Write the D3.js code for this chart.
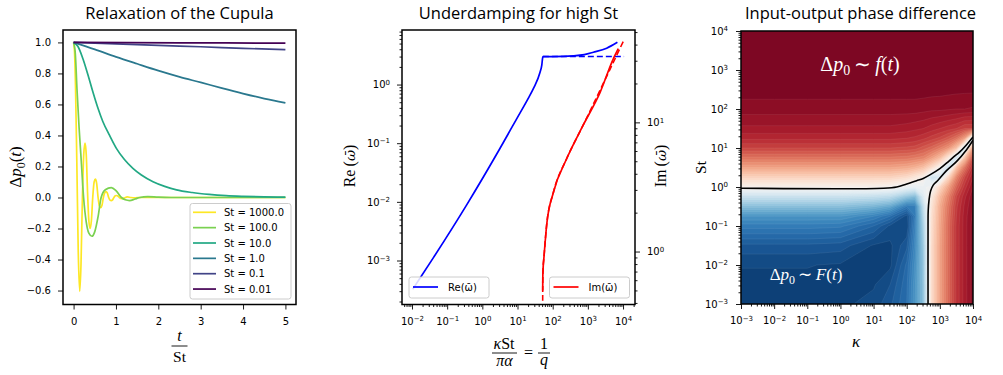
<!DOCTYPE html>
<html>
<head>
<meta charset="utf-8">
<script src="https://cdn.jsdelivr.net/npm/d3@7"></script>
<style>
  body { margin: 0; background: #fff; }
  .tick text { font-family: "DejaVu Sans", sans-serif; font-size: 10px; fill: #000; }
  .title { font-family: "Open Sans", sans-serif; font-size: 16.5px; text-anchor: middle; fill: #000; }
  .math { font-family: "Liberation Serif", serif; fill: #000; }
  .legend text { font-family: "DejaVu Sans", sans-serif; font-size: 10px; fill: #000; }
</style>
</head>
<body>
<svg width="1003" height="375"></svg>
<script>
// ---------- Panel 1: relaxation of the cupula, [t/St, Δp0] ----------
var stLabels = ["St = 1000.0", "St = 100.0", "St = 10.0", "St = 1.0", "St = 0.1", "St = 0.01"];
var relaxSt1000 = [[0,1],[0.02,0.95],[0.045,0.72],[0.075,0.25],[0.11,-0.35],[0.145,-0.605],[0.175,-0.43],[0.208,0],[0.24,0.28],[0.27,0.35],[0.3,0.27],[0.33,0.03],[0.36,-0.15],[0.39,-0.2],[0.42,-0.15],[0.452,0],[0.485,0.1],[0.515,0.118],[0.545,0.09],[0.578,0],[0.61,-0.055],[0.64,-0.065],[0.67,-0.05],[0.703,0],[0.735,0.03],[0.765,0.038],[0.795,0.03],[0.828,0],[0.86,-0.017],[0.89,-0.02],[0.92,-0.015],[0.953,0],[0.985,0.011],[1.015,0.013],[1.045,0.01],[1.08,0],[1.14,-0.007],[1.2,-0.003],[1.265,0.004],[1.35,0],[1.45,-0.002],[1.6,0],[5,0]];
var relaxSt100 = [[0,1],[0.04,0.93],[0.08,0.7],[0.13,0.45],[0.18,0.24],[0.236,0],[0.3,-0.16],[0.36,-0.23],[0.433,-0.25],[0.5,-0.22],[0.58,-0.12],[0.65,0],[0.75,0.05],[0.89,0.064],[1.0,0.045],[1.13,0],[1.22,-0.015],[1.32,-0.02],[1.45,-0.01],[1.56,0],[1.75,0.006],[2.0,0.002],[2.3,0],[5,0]];
var relaxSt10 = [[0,1],[0.1,0.975],[0.22,0.895],[0.34,0.79],[0.456,0.68],[0.57,0.58],[0.69,0.49],[0.85,0.4],[1.01,0.317],[1.2,0.245],[1.4,0.188],[1.6,0.145],[1.875,0.102],[2.15,0.072],[2.43,0.049],[2.8,0.032],[3.2,0.02],[3.6,0.012],[4,0.0075],[4.5,0.004],[5,0.002]];
var relaxSt1 = [[0,1],[0.5,0.955],[1,0.907],[1.5,0.862],[2,0.818],[2.5,0.778],[3,0.742],[3.5,0.705],[4,0.67],[4.5,0.638],[5,0.61]];
var relaxSt01 = [[0,1],[1,0.991],[2,0.981],[3,0.972],[4,0.962],[5,0.953]];
var relaxSt001 = [[0,1],[2.5,0.9975],[5,0.995]];
var relaxSeries = [relaxSt1000, relaxSt100, relaxSt10, relaxSt1, relaxSt01, relaxSt001];
var timeTicks = [0, 1, 2, 3, 4, 5];
var pressureTicks = [-0.6, -0.4, -0.2, 0, 0.2, 0.4, 0.6, 0.8, 1.0];

// ---------- Panel 2: eigenvalue vs κSt/(πα) ----------
var reOmega = [[0.0105,0.000324],[0.0407,0.00112],[0.359,0.0089],[3.16,0.0813],[9.55,0.263],[20,0.575],[28.2,0.851],[43.7,1.62],[49,2.14],[52,2.9],[54,3.0],[100,3.0],[389,3.09],[794,3.24],[1429,3.55],[3430,4.17],[6918,5.25]];
var reOmegaLimit = [[52.5,3.0],[10700,3.0]];
var imOmega = [[52.0,0.5],[52.3,0.62],[53.5,0.75],[56.2,0.89],[67.6,1.62],[105,2.88],[251,5.25],[741,9.55],[2213,17.0],[5248,30.9],[7328,37.2]];
var imOmegaLimit = [[51.8,0.3],[52.3,0.62],[53.5,0.75],[56.2,0.89],[67.6,1.62],[105,2.88],[251,5.25],[741,9.55],[10715,43.7]];

// ---------- Panel 3: phase difference (normalised, -1..1) ----------
var kappaExp = [-3, -2, -1, 0, 1, 1.5, 2, 2.25, 2.5, 2.75, 3, 3.25, 3.5, 3.75, 4]; // log10 κ of grid columns
var stExp = [-3, -2.5, -2, -1.5, -1, -0.75, -0.5, -0.25, 0, 0.25, 0.5, 0.75, 1, 1.25, 1.5, 2, 2.5, 3, 4]; // log10 St of grid rows
var phaseGrid = [
  [-0.93,-0.93,-0.93,-0.93,-0.905,-0.85,-0.76,-0.6,-0.42,0.18,0.4,0.57,0.73,0.82,0.9],
  [-0.93,-0.93,-0.93,-0.93,-0.925,-0.88,-0.77,-0.61,-0.41,0.18,0.4,0.57,0.73,0.82,0.9],
  [-0.918,-0.918,-0.918,-0.925,-0.93,-0.93,-0.79,-0.63,-0.4,0.18,0.4,0.57,0.73,0.82,0.9],
  [-0.85,-0.85,-0.85,-0.86,-0.925,-0.93,-0.85,-0.66,-0.38,0.18,0.4,0.57,0.73,0.82,0.9],
  [-0.7,-0.7,-0.7,-0.71,-0.8,-0.89,-0.92,-0.69,-0.34,0.17,0.39,0.57,0.73,0.82,0.9],
  [-0.6,-0.6,-0.6,-0.6,-0.68,-0.76,-0.9,-0.72,-0.3,0.16,0.38,0.56,0.72,0.82,0.89],
  [-0.42,-0.42,-0.42,-0.42,-0.47,-0.53,-0.72,-0.7,-0.25,0.14,0.37,0.54,0.71,0.81,0.88],
  [-0.22,-0.22,-0.22,-0.22,-0.24,-0.27,-0.4,-0.45,-0.14,0.1,0.32,0.5,0.68,0.79,0.87],
  [0.03,0.03,0.03,0.03,0.03,0.01,-0.05,-0.08,-0.05,-0.02,0.2,0.4,0.6,0.74,0.84],
  [0.22,0.22,0.22,0.22,0.22,0.22,0.18,0.12,0.05,-0.2,-0.15,0.2,0.5,0.68,0.8],
  [0.4,0.4,0.4,0.4,0.4,0.4,0.38,0.35,0.3,0.18,0.02,-0.2,0.3,0.55,0.75],
  [0.55,0.55,0.55,0.55,0.55,0.55,0.54,0.52,0.5,0.42,0.32,0.12,-0.2,0.3,0.65],
  [0.68,0.68,0.68,0.68,0.68,0.68,0.67,0.66,0.62,0.58,0.52,0.45,0.3,-0.15,0.45],
  [0.77,0.77,0.77,0.77,0.77,0.77,0.76,0.75,0.73,0.7,0.67,0.62,0.55,0.42,-0.1],
  [0.83,0.83,0.83,0.83,0.83,0.83,0.82,0.81,0.8,0.78,0.76,0.74,0.72,0.68,0.68],
  [0.9,0.9,0.9,0.9,0.9,0.9,0.9,0.9,0.895,0.89,0.89,0.885,0.88,0.88,0.875],
  [0.94,0.94,0.94,0.94,0.94,0.94,0.94,0.94,0.94,0.938,0.936,0.934,0.932,0.93,0.93],
  [0.955,0.955,0.955,0.955,0.955,0.955,0.955,0.955,0.955,0.955,0.955,0.955,0.955,0.953,0.953],
  [0.958,0.958,0.958,0.958,0.958,0.958,0.958,0.958,0.958,0.958,0.958,0.958,0.958,0.958,0.958]
];
// zero-phase contours [κ, St]
var upperZero = [[0.001,0.93],[20,0.93],[50,1.0],[100,1.2],[200,1.45],[316,1.66],[500,2.04],[1000,2.95],[1585,4.07],[2512,5.75],[3981,7.94],[6310,12.0],[10000,19.1]];
var lowerZero = [[440,0.001],[440,0.1],[445,0.25],[470,0.45],[525,0.79],[631,1.12],[891,1.51],[1585,2.63],[3162,4.47],[6310,8.91],[10000,15.8]];
var logTicks3 = [1e-3, 1e-2, 1e-1, 1, 10, 100, 1000, 10000];

var svg = d3.select("svg");
var top0 = 30, bot0 = 304.5;

function minorTicks(lo, hi, dmin, dmax) {
    var out = [];
    for (var e = lo; e <= hi; e++) {
        for (var m = 2; m < 10; m++) {
            var v = m * Math.pow(10, e);
            if (v >= dmin && v <= dmax) out.push(v);
        }
    }
    return out;
}

// turn the log ticks into 10 with a superscript
function powLabels(g) {
    g.selectAll(".tick text").each(function (d) {
        var e = Math.round(Math.log10(d));
        var t = d3.select(this).text("");
        t.append("tspan").text("10");
        t.append("tspan").attr("dy", "-0.5em").attr("font-size", "7px")
            .text(e < 0 ? "\u2212" + (-e) : String(e));
    });
}

function cleanAxis(g) {
    g.select(".domain").remove();
    g.selectAll(".tick line").attr("stroke", "#000").attr("stroke-width", 0.9);
}

function mathParts(sel, size, parts) {
    var back = 0;
    parts.forEach(function (p) {
        var ts = sel.append("tspan").text(p[0]);
        if (p[1] === "i") ts.attr("font-style", "italic");
        if (p[1] === "w") ts.attr("font-style", "italic").attr("font-family", "DejaVu Serif").attr("font-size", size * 0.85);
        if (p[1] === "sub") {
            ts.attr("font-size", size * 0.7).attr("dy", size * 0.22);
            back = size * 0.22;
        } else if (back) {
            ts.attr("dy", -back);
            back = 0;
        }
    });
}

var defs = svg.append("defs");
defs.append("clipPath").attr("id", "clip1").append("rect")
    .attr("x", 63).attr("y", top0).attr("width", 233).attr("height", bot0 - top0);
defs.append("clipPath").attr("id", "clip2").append("rect")
    .attr("x", 402).attr("y", top0).attr("width", 233).attr("height", bot0 - top0);
defs.append("clipPath").attr("id", "clip3").append("rect")
    .attr("x", 741).attr("y", 31).attr("width", 232).attr("height", 273);

// ================= Panel 1 =================
var x1 = d3.scaleLinear().domain([-0.25, 5.25]).range([63, 296]);
var y1 = d3.scaleLinear().domain([-0.69, 1.08]).range([bot0, top0]);
var stColor = function (i) { return d3.interpolateViridis(1 - i / 5); };

var line1 = d3.line()
    .x(function (d) { return x1(d[0]); })
    .y(function (d) { return y1(d[1]); })
    .curve(d3.curveMonotoneX);

var p1 = svg.append("g");
p1.append("g").attr("clip-path", "url(#clip1)")
    .selectAll("path").data(relaxSeries).enter().append("path")
    .attr("d", line1)
    .attr("fill", "none")
    .attr("stroke", function (d, i) { return stColor(i); })
    .attr("stroke-width", 1.7);

p1.append("g").attr("transform", "translate(0," + bot0 + ")")
    .call(d3.axisBottom(x1).tickValues(timeTicks).tickSize(5).tickPadding(8).tickFormat(d3.format("d")))
    .call(cleanAxis);
p1.append("g").attr("transform", "translate(63,0)")
    .call(d3.axisLeft(y1).tickValues(pressureTicks).tickSize(5).tickPadding(7).tickFormat(d3.format(".1f")))
    .call(cleanAxis);
p1.append("rect").attr("x", 63).attr("y", top0).attr("width", 233).attr("height", bot0 - top0)
    .attr("fill", "none").attr("stroke", "#000").attr("stroke-width", 1.5);

// legend
var leg1 = svg.append("g").attr("class", "legend");
leg1.append("rect").attr("x", 190).attr("y", 203.5).attr("width", 101).attr("height", 95.5).attr("rx", 2.5)
    .attr("fill", "#fff").attr("fill-opacity", 0.85).attr("stroke", "#ccc");
stLabels.forEach(function (lab, i) {
    var yy = 212.3 + i * 15.35;
    leg1.append("line").attr("x1", 193).attr("x2", 216).attr("y1", yy).attr("y2", yy)
        .attr("stroke", stColor(i)).attr("stroke-width", 1.7);
    leg1.append("text").attr("x", 224).attr("y", yy + 3.6).text(lab);
});

svg.append("text").attr("class", "title").attr("x", 179.5).attr("y", 18.5).text("Relaxation of the Cupula");

// y label Δp0(t)
mathParts(svg.append("text").attr("class", "math").attr("font-size", 17).attr("text-anchor", "middle")
    .attr("transform", "translate(21,167) rotate(-90)"),
    17, [["\u0394"], ["p", "i"], ["0", "sub"], ["("], ["t", "i"], [")"]]);
// x label t / St
svg.append("text").attr("class", "math").attr("font-size", 16).attr("font-style", "italic")
    .attr("text-anchor", "middle").attr("x", 179.5).attr("y", 340.5).text("t");
svg.append("line").attr("x1", 171.5).attr("x2", 187.5).attr("y1", 346).attr("y2", 346)
    .attr("stroke", "#000").attr("stroke-width", 0.9);
svg.append("text").attr("class", "math").attr("font-size", 15.5)
    .attr("text-anchor", "middle").attr("x", 179.5).attr("y", 362).text("St");

// ================= Panel 2 =================
var x2 = d3.scaleLog().domain([Math.pow(10, -2.284), Math.pow(10, 4.34)]).range([402, 635]);
var y2 = d3.scaleLog().domain([Math.pow(10, -3.75), Math.pow(10, 0.93)]).range([bot0, top0]);
var y2r = d3.scaleLog().domain([Math.pow(10, -0.41), Math.pow(10, 1.715)]).range([bot0, top0]);

var lineRe = d3.line().x(function (d) { return x2(d[0]); }).y(function (d) { return y2(d[1]); }).curve(d3.curveMonotoneX);
var lineIm = d3.line().x(function (d) { return x2(d[0]); }).y(function (d) { return y2r(d[1]); }).curve(d3.curveMonotoneX);

var p2 = svg.append("g");
var c2 = p2.append("g").attr("clip-path", "url(#clip2)");
c2.append("path").datum(reOmegaLimit).attr("d", lineRe).attr("fill", "none")
    .attr("stroke", "#0000ff").attr("stroke-width", 1.6).attr("stroke-dasharray", "6,3");
c2.append("path").datum(imOmegaLimit).attr("d", lineIm).attr("fill", "none")
    .attr("stroke", "#ff0000").attr("stroke-width", 1.6).attr("stroke-dasharray", "6,3");
c2.append("path").datum(reOmega).attr("d", lineRe).attr("fill", "none")
    .attr("stroke", "#0000ff").attr("stroke-width", 1.7);
c2.append("path").datum(imOmega).attr("d", lineIm).attr("fill", "none")
    .attr("stroke", "#ff0000").attr("stroke-width", 1.7);

var xMajor2 = [1e-2, 1e-1, 1, 10, 100, 1000, 10000];
p2.append("g").attr("transform", "translate(0," + bot0 + ")")
    .call(d3.axisBottom(x2).tickValues(minorTicks(-3, 4, x2.domain()[0], x2.domain()[1])).tickSize(2.5).tickFormat(""))
    .call(cleanAxis);
p2.append("g").attr("transform", "translate(0," + bot0 + ")")
    .call(d3.axisBottom(x2).tickValues(xMajor2).tickSize(5).tickPadding(8))
    .call(cleanAxis).call(powLabels);

p2.append("g").attr("transform", "translate(402,0)")
    .call(d3.axisLeft(y2).tickValues(minorTicks(-4, 0, y2.domain()[0], y2.domain()[1])).tickSize(2.5).tickFormat(""))
    .call(cleanAxis);
p2.append("g").attr("transform", "translate(402,0)")
    .call(d3.axisLeft(y2).tickValues([1e-3, 1e-2, 1e-1, 1]).tickSize(5).tickPadding(7))
    .call(cleanAxis).call(powLabels);

p2.append("g").attr("transform", "translate(635,0)")
    .call(d3.axisRight(y2r).tickValues(minorTicks(-1, 1, y2r.domain()[0], y2r.domain()[1])).tickSize(2.5).tickFormat(""))
    .call(cleanAxis);
p2.append("g").attr("transform", "translate(635,0)")
    .call(d3.axisRight(y2r).tickValues([1, 10]).tickSize(5).tickPadding(7))
    .call(cleanAxis).call(powLabels);

p2.append("rect").attr("x", 402).attr("y", top0).attr("width", 233).attr("height", bot0 - top0)
    .attr("fill", "none").attr("stroke", "#000").attr("stroke-width", 1.5);

// legends
var leg2 = svg.append("g").attr("class", "legend");
[[409, 413, 448, "#0000ff", "Re(\u03C9\u0304)"], [549.5, 553.5, 588.5, "#ff0000", "Im(\u03C9\u0304)"]].forEach(function (L) {
    leg2.append("rect").attr("x", L[0]).attr("y", 277).attr("width", 80).attr("height", 21).attr("rx", 2.5)
        .attr("fill", "#fff").attr("fill-opacity", 0.85).attr("stroke", "#ccc");
    leg2.append("line").attr("x1", L[1]).attr("x2", L[1] + 25).attr("y1", 287).attr("y2", 287)
        .attr("stroke", L[3]).attr("stroke-width", 1.7);
    leg2.append("text").attr("x", L[2]).attr("y", 291).text(L[4]);
});

svg.append("text").attr("class", "title").attr("x", 518.5).attr("y", 18.5).text("Underdamping for high St");

var reLab = svg.append("text").attr("class", "math").attr("font-size", 16).attr("text-anchor", "middle")
    .attr("transform", "translate(355,166) rotate(-90)");
mathParts(reLab, 16, [["Re\u2009("], ["\u03C9\u0304", "w"], [")"]]);
var imLab = svg.append("text").attr("class", "math").attr("font-size", 16).attr("text-anchor", "middle")
    .attr("transform", "translate(666,166) rotate(-90)");
mathParts(imLab, 16, [["Im\u2009("], ["\u03C9\u0304", "w"], [")"]]);

// x label κSt/(πα) = 1/q
var xl2 = svg.append("g").attr("class", "math");
mathParts(xl2.append("text").attr("x", 504).attr("y", 348.5).attr("font-size", 16).attr("text-anchor", "middle"),
    16, [["\u03BA", "i"], ["St"]]);
xl2.append("line").attr("x1", 492).attr("x2", 517).attr("y1", 353).attr("y2", 353).attr("stroke", "#000").attr("stroke-width", 0.9);
mathParts(xl2.append("text").attr("x", 504.5).attr("y", 366).attr("font-size", 16).attr("text-anchor", "middle"),
    16, [["\u03C0\u03B1", "i"]]);
xl2.append("text").attr("x", 528.5).attr("y", 358).attr("font-size", 16).attr("text-anchor", "middle").text("=");
xl2.append("text").attr("x", 544).attr("y", 348.5).attr("font-size", 16).attr("text-anchor", "middle").text("1");
xl2.append("line").attr("x1", 538).attr("x2", 550).attr("y1", 353).attr("y2", 353).attr("stroke", "#000").attr("stroke-width", 0.9);
xl2.append("text").attr("x", 544).attr("y", 365).attr("font-size", 16).attr("font-style", "italic").attr("text-anchor", "middle").text("q");

// ================= Panel 3 =================
var kx3 = d3.scaleLog().domain([1e-3, 1e4]).range([741, 973]);
var ky3 = d3.scaleLog().domain([1e-3, 1e4]).range([304, 31]);

var nx = kappaExp.length, ny = stExp.length;
var values = [];
phaseGrid.forEach(function (row) { row.forEach(function (v) { values.push(v); }); });
var levels = d3.range(-1, 1.0001, 0.04);
var bands = d3.contours().size([nx, ny]).thresholds(levels)(values);

var colIdx = d3.scaleLinear().domain(d3.range(nx)).range(kappaExp).clamp(true);
var rowIdx = d3.scaleLinear().domain(d3.range(ny)).range(stExp).clamp(true);
var gridProj = d3.geoTransform({
    point: function (x, y) {
        this.stream.point(kx3(Math.pow(10, colIdx(x - 0.5))), ky3(Math.pow(10, rowIdx(y - 0.5))));
    }
});
var gridPath = d3.geoPath(gridProj);
var phaseColor = function (v) { return d3.interpolateRdBu(0.5 - v / 2); };

var p3 = svg.append("g");
var c3 = p3.append("g").attr("clip-path", "url(#clip3)");
c3.selectAll("path.band").data(bands).enter().append("path")
    .attr("class", "band")
    .attr("d", gridPath)
    .attr("fill", function (d) { return phaseColor(d.value + 0.02); })
    .attr("stroke", "#fff").attr("stroke-opacity", 0.14).attr("stroke-width", 0.5);

var zeroLine = d3.line()
    .x(function (d) { return kx3(d[0]); })
    .y(function (d) { return ky3(d[1]); })
    .curve(d3.curveCatmullRom.alpha(0.5));
c3.selectAll("path.zero").data([upperZero, lowerZero]).enter().append("path")
    .attr("class", "zero").attr("d", zeroLine)
    .attr("fill", "none").attr("stroke", "#000").attr("stroke-width", 1.6);

p3.append("g").attr("transform", "translate(0,304)")
    .call(d3.axisBottom(kx3).tickValues(minorTicks(-3, 3, 1e-3, 1e4)).tickSize(2.5).tickFormat(""))
    .call(cleanAxis);
p3.append("g").attr("transform", "translate(0,304)")
    .call(d3.axisBottom(kx3).tickValues(logTicks3).tickSize(5).tickPadding(8))
    .call(cleanAxis).call(powLabels);
p3.append("g").attr("transform", "translate(741,0)")
    .call(d3.axisLeft(ky3).tickValues(minorTicks(-3, 3, 1e-3, 1e4)).tickSize(2.5).tickFormat(""))
    .call(cleanAxis);
p3.append("g").attr("transform", "translate(741,0)")
    .call(d3.axisLeft(ky3).tickValues(logTicks3).tickSize(5).tickPadding(8))
    .call(cleanAxis).call(powLabels);
p3.append("rect").attr("x", 741).attr("y", 31).attr("width", 232).attr("height", 273)
    .attr("fill", "none").attr("stroke", "#000").attr("stroke-width", 1.5);

svg.append("text").attr("class", "title").attr("x", 860.5).attr("y", 18.5).text("Input-output phase difference");

// annotations
mathParts(svg.append("text").attr("class", "math").attr("font-size", 20).attr("text-anchor", "middle")
    .attr("x", 860).attr("y", 71).style("fill", "#fff"),
    20, [["\u0394"], ["p", "i"], ["0", "sub"], ["\u2009\u223C\u2009"], ["f", "i"], ["("], ["t", "i"], [")"]]);
mathParts(svg.append("text").attr("class", "math").attr("font-size", 17).attr("text-anchor", "middle")
    .attr("x", 806).attr("y", 280).style("fill", "#fff"),
    17, [["\u0394"], ["p", "i"], ["0", "sub"], ["\u2009\u223C\u2009"], ["F", "i"], ["("], ["t", "i"], [")"]]);

svg.append("text").attr("class", "math").attr("font-size", 15.5).attr("text-anchor", "middle")
    .attr("transform", "translate(706,167.5) rotate(-90)").text("St");
svg.append("text").attr("class", "math").attr("font-size", 17).attr("font-style", "italic")
    .attr("text-anchor", "middle").attr("x", 856).attr("y", 347).text("\u03BA");
</script>
</body>
</html>
